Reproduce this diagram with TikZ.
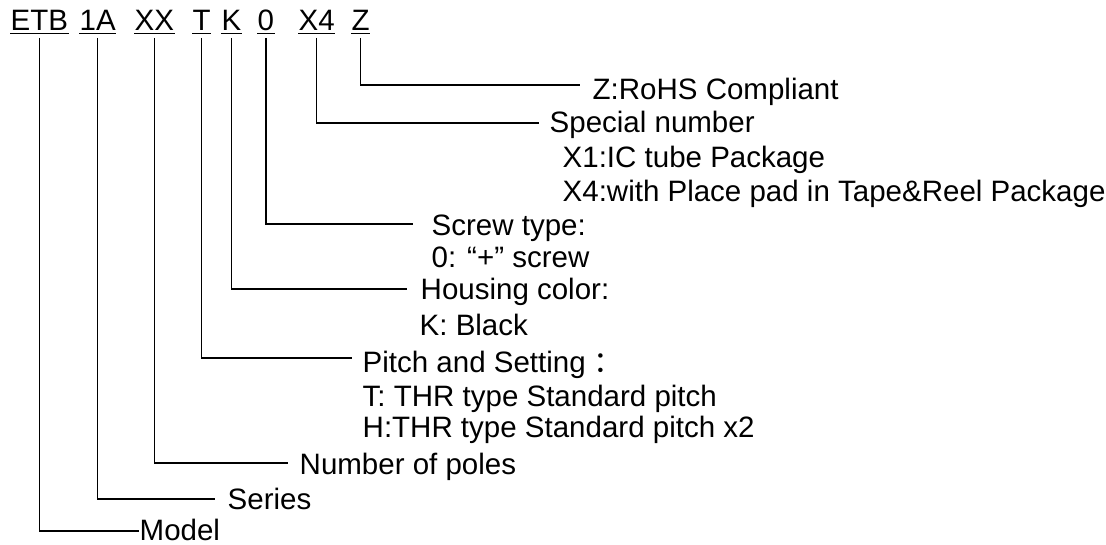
\documentclass[tikz,border=0pt]{standalone}
\usepackage{fontspec}
\setmainfont{Liberation Sans}
\newfontfamily\cjkfont{Noto Sans CJK SC}
\begin{document}
\begin{tikzpicture}[x=1pt,y=-1pt,line width=1.4pt,
  txt/.style={inner sep=0pt,anchor=base west,font=\fontsize{29.5}{34}\selectfont},
  conn/.style={line width=1.4pt}]
\useasboundingbox (0,0) rectangle (1106,545);
% header
\node[txt] (hETB) at (10,31) {ETB};
\node[txt] (h1A) at (79,31) {1A};
\node[txt] (hXX) at (134,31) {XX};
\node[txt] (hT) at (192,31) {T};
\node[txt] (hK) at (221,31) {K};
\node[txt] (h0) at (257,31) {0};
\node[txt] (hX4) at (298,31) {X4};
\node[txt] (hZ) at (351,31) {Z};
\foreach \n in {hETB,h1A,hXX,hT,hK,h0,hX4,hZ}
  \draw[line width=1.2pt] ([yshift=-2.5pt]\n.base west) -- ([yshift=-2.5pt]\n.base east);
% labels
\node[txt] (lZ) at (592,100) {Z:RoHS Compliant};
\node[txt] (lSp) at (549,133) {Special number};
\node[txt] (lX1) at (562,168) {X1:IC tube Package};
\node[txt] (lX4) at (562,202) {X4:with Place pad in Tape\&Reel Package};
\node[txt] (lSc) at (431,236) {Screw type:};
\node[txt] (lSc0) at (431,268) {0: “+” screw};
\node[txt] (lHo) at (420,300) {Housing color:};
\node[txt] (lHoK) at (419,336) {K: Black};
\node[txt] (lPi) at (362,372) {Pitch and Setting {\cjkfont ：}};
\node[txt] (lPiT) at (362,406) {T: THR type Standard pitch};
\node[txt] (lPiH) at (362,437) {H:THR type Standard pitch x2};
\node[txt] (lPo) at (299,474) {Number of poles};
\node[txt] (lSe) at (227,509) {Series};
\node[txt] (lMo) at (139,540) {Model};
% connector ends
\coordinate (eZ) at (580,85);
\coordinate (eSp) at (539,123);
\coordinate (eSc) at (413,224);
\coordinate (eHo) at (407,289);
\coordinate (ePi) at (352,358);
\coordinate (ePo) at (288,463);
\coordinate (eSe) at (215,499);
\coordinate (eMo) at (139,531);
% connectors
\draw[conn] ([yshift=-7pt]hZ.base) |- (eZ);
\draw[conn] ([yshift=-7pt]hX4.base) |- (eSp);
\draw[conn] ([yshift=-7pt]h0.base) |- (eSc);
\draw[conn] ([yshift=-7pt]hK.base) |- (eHo);
\draw[conn] ([yshift=-7pt]hT.base) |- (ePi);
\draw[conn] ([yshift=-7pt]hXX.base) |- (ePo);
\draw[conn] ([yshift=-7pt]h1A.base) |- (eSe);
\draw[conn] ([yshift=-7pt]hETB.base) |- (eMo);
\end{tikzpicture}
\end{document}
